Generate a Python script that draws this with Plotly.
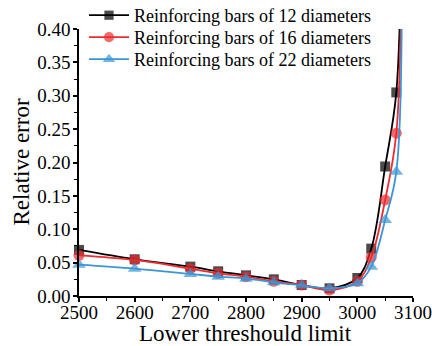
import plotly.graph_objects as go

x_vals = [2500, 2600, 2700, 2750, 2800, 2850, 2900, 2950, 3000, 3025, 3050, 3070, 3080]
err_12 = [0.069, 0.055, 0.044, 0.037, 0.031, 0.025, 0.0165, 0.0115, 0.027, 0.071, 0.194, 0.305, 0.62]
err_16 = [0.061, 0.054, 0.041, 0.034, 0.029, 0.022, 0.0165, 0.009, 0.022, 0.058, 0.144, 0.244, 0.56]
err_22 = [0.047, 0.041, 0.033, 0.029, 0.026, 0.0205, 0.016, 0.0115, 0.019, 0.044, 0.114, 0.186, 0.50]
names = ["Reinforcing bars of 12 diameters", "Reinforcing bars of 16 diameters", "Reinforcing bars of 22 diameters"]
x_title = "Lower threshould limit"
y_title = "Relative error"

series = [
    (names[0], err_12, "#000000", "square", 10),
    (names[1], err_16, "#ee2b2f", "circle", 11),
    (names[2], err_22, "#3b96d6", "triangle-up", 12),
]

FF = "Liberation Serif"
W, H = 432, 346
ML, MR, MT, MB = 79, 19, 29, 50
PW, PH = W - ML - MR, H - MT - MB

legend_ids = ["legend", "legend2", "legend3"]
legend_rows_px = [15, 37, 59]   # row centres in pixels from top

fig = go.Figure()
for (name, ys, col, sym, sz), lid in zip(series, legend_ids):
    sizes = [sz] * (len(x_vals) - 1) + [0]
    fig.add_trace(go.Scatter(
        x=x_vals, y=ys, name=name, mode="lines+markers",
        line=dict(color=col, width=1.8, shape="spline", smoothing=1.0),
        marker=dict(symbol=sym, size=sizes, color=col, line=dict(width=0)),
        cliponaxis=False, legend=lid,
    ))

legend_layout = {}
for lid, rowpx in zip(legend_ids, legend_rows_px):
    top_px = rowpx - 18
    legend_layout[lid] = dict(
        x=(84 - ML) / PW, y=(H - MB - top_px) / PH, xanchor="left", yanchor="top",
        bgcolor="rgba(0,0,0,0)", font=dict(size=18, family=FF, color="black"),
        itemwidth=40)

fig.update_layout(
    width=W, height=H,
    margin=dict(l=ML, r=MR, t=MT, b=MB, autoexpand=False),
    paper_bgcolor="white", plot_bgcolor="white",
    font=dict(family=FF, color="black", size=18),
    showlegend=True,
    **legend_layout,
    xaxis=dict(range=[2500, 3100], tickvals=[2500, 2600, 2700, 2800, 2900, 3000, 3100],
               automargin=False,
               showgrid=False, zeroline=False, showline=True, linecolor="black", linewidth=1.5,
               ticks="outside", ticklen=4, tickwidth=1.5, tickcolor="black", ticklabelstandoff=-6,
               minor=dict(dtick=50, tick0=2500, ticks="outside", ticklen=3, tickwidth=1.2, tickcolor="black"),
               tickfont=dict(size=19, family=FF, color="black")),
    yaxis=dict(range=[0, 0.40], dtick=0.05, tickformat=".2f",
               automargin=False,
               showgrid=False, zeroline=False, showline=True, linecolor="black", linewidth=1.5,
               ticks="outside", ticklen=4, tickwidth=1.5, tickcolor="black", ticklabelstandoff=-1,
               minor=dict(dtick=0.025, tick0=0, ticks="outside", ticklen=3, tickwidth=1.2, tickcolor="black"),
               tickfont=dict(size=19, family=FF, color="black")),
    annotations=[
        dict(text=x_title, xref="paper", yref="paper",
             x=(245 - ML) / PW, y=(H - MB - 333) / PH, xanchor="center", yanchor="middle",
             showarrow=False, font=dict(size=23, family=FF, color="black")),
        dict(text=y_title, xref="paper", yref="paper", textangle=-90,
             x=(21 - ML) / PW, y=0.5, xanchor="center", yanchor="middle",
             showarrow=False, font=dict(size=23, family=FF, color="black")),
    ],
)

fig.write_html("out.html")
